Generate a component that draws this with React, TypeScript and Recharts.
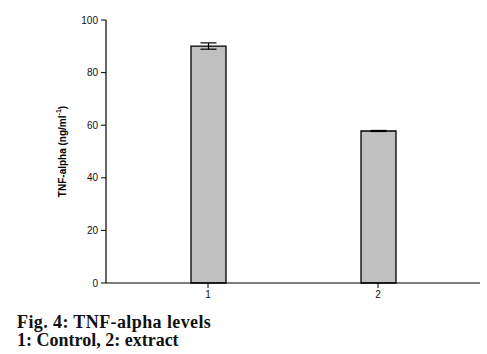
import React from 'react';
import { BarChart, Bar, XAxis, YAxis, ErrorBar } from 'recharts';

const groups = [1, 2];
const tnfLevels = [90.1, 57.8];
const tnfErrors = [1.2, 0.2];
const yTicks = [0, 20, 40, 60, 80, 100];

const data = groups.map((g, i) => ({ group: g, tnf: tnfLevels[i], err: tnfErrors[i] }));

const tickStyle = { fontFamily: 'Arial, "Liberation Sans", sans-serif', fontSize: 10, fill: '#111' };

const YLabel = ({ viewBox }: any) => {
  const cx = viewBox.x + 2;
  const cy = viewBox.y + viewBox.height / 2;
  return (
    <text
      x={cx}
      y={cy}
      transform={`rotate(-90, ${cx}, ${cy})`}
      textAnchor="middle"
      dominantBaseline="central"
      style={{ fontFamily: 'Arial, "Liberation Sans", sans-serif', fontSize: 10, fontWeight: 'bold', fill: '#000' }}
    >
      TNF-alpha (ng/ml<tspan dy={-4} fontSize={7}>-1</tspan><tspan dy={4}>)</tspan>
    </text>
  );
};

export default function App() {
  return (
    <div style={{ position: 'absolute', left: 0, top: 0, width: 487, height: 354, background: '#fff' }}>
      <BarChart
        width={487}
        height={354}
        data={data}
        margin={{ top: 20, right: 7, bottom: 41, left: 60 }}
      >
        <XAxis
          dataKey="group"
          type="number"
          height={30}
          domain={[0.4, 2.6]}
          ticks={groups}
          tickSize={5}
          tickMargin={3}
          tick={tickStyle}
          axisLine={{ stroke: '#000', strokeWidth: 1.2 }}
          tickLine={{ stroke: '#000' }}
        />
        <YAxis
          width={46}
          domain={[0, 100]}
          ticks={yTicks}
          interval={0}
          tickSize={5}
          tickMargin={3}
          tick={tickStyle}
          axisLine={{ stroke: '#000', strokeWidth: 1.2 }}
          tickLine={{ stroke: '#000' }}
          label={<YLabel />}
        />
        <Bar dataKey="tnf" barSize={35} fill="#c0c0c0" stroke="#000" strokeWidth={1.3} isAnimationActive={false}>
          <ErrorBar dataKey="err" width={8} stroke="#000" strokeWidth={1.2} direction="y" />
        </Bar>
      </BarChart>
      <div
        style={{
          position: 'absolute',
          left: 17,
          top: 313,
          fontFamily: '"Times New Roman", "Liberation Serif", serif',
          fontWeight: 'bold',
          fontSize: 18,
          lineHeight: '18px',
          color: '#111',
        }}
      >
        <div style={{ letterSpacing: 0.4 }}>Fig. 4: TNF-alpha levels</div>
        <div>1: Control, 2: extract</div>
      </div>
    </div>
  );
}
